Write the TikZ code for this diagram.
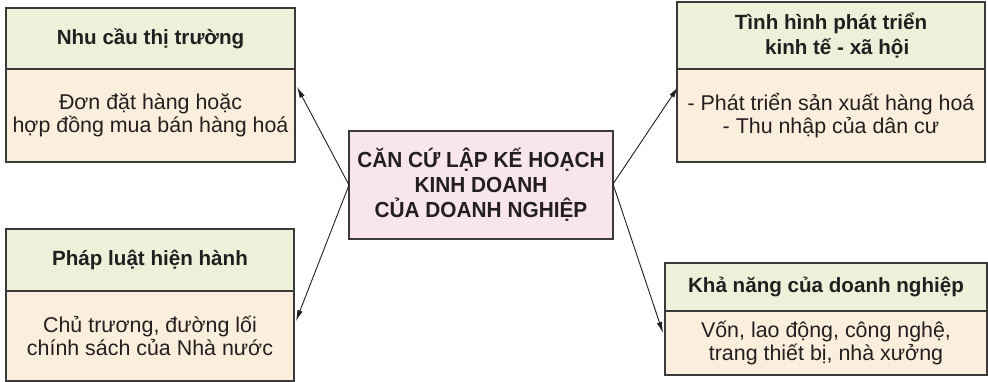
\documentclass[tikz,border=0pt]{standalone}
\usepackage{fontspec}
\setmainfont{Liberation Sans}
\newfontfamily\ctrfont{Liberation Sans}[FakeStretch=0.955]
\usetikzlibrary{arrows.meta}
\definecolor{hdrgreen}{HTML}{EDF1DA}
\definecolor{bodycream}{HTML}{FCEEDC}
\definecolor{centerpink}{HTML}{F9E6EB}
\definecolor{edgegray}{HTML}{3A3A3A}
\definecolor{txt}{HTML}{231F20}
\begin{document}
\begin{tikzpicture}[x=1pt,y=-1pt,
  boxbase/.style={draw=edgegray,line width=1.3pt,inner sep=0pt,align=center,text=txt},
  hdr/.style={boxbase,fill=hdrgreen,font=\fontsize{20.6}{25}\selectfont\bfseries},
  bdy/.style={boxbase,fill=bodycream,font=\fontsize{21.4}{23.2}\selectfont},
  ctr/.style={boxbase,fill=centerpink,font=\ctrfont\fontsize{21.8}{25}\selectfont\bfseries},
  conn/.style={draw=txt,line width=0.9pt,-{Latex[length=11pt,width=5.5pt]}}]
\useasboundingbox (0,0) rectangle (988,382);
% top-left
\node[bdy,minimum width=289pt,minimum height=93pt] (b1) at (150.5,115.5) {Đơn đặt hàng hoặc\\hợp đồng mua bán hàng hoá};
\node[hdr,minimum width=289pt,minimum height=61pt] (h1) at (150.5,38.5) {Nhu cầu thị trường};
% bottom-left
\node[bdy,minimum width=288pt,minimum height=90pt] (b2) at (150,336) {Chủ trương, đường lối\\chính sách của Nhà nước};
\node[hdr,minimum width=288pt,minimum height=62pt] (h2) at (150,260) {Pháp luật hiện hành};
% top-right
\node[bdy,minimum width=308pt,minimum height=93pt] (b3) at (831,115.5) {- Phát triển sản xuất hàng hoá\\- Thu nhập của dân cư};
\node[hdr,minimum width=308pt,minimum height=67pt] (h3) at (831,35.5) {Tình hình phát triển\\\hspace*{0.6em}kinh tế - xã hội};
% bottom-right
\node[bdy,minimum width=322pt,minimum height=64pt] (b4) at (826,343) {Vốn, lao động, công nghệ,\\trang thiết bị, nhà xưởng};
\node[hdr,minimum width=322pt,minimum height=48pt] (h4) at (826,287) {Khả năng của doanh nghiệp};
% center
\node[ctr,minimum width=264pt,minimum height=108pt] (c) at (481,185) {CĂN CỨ LẬP KẾ HOẠCH\\KINH DOANH\\CỦA DOANH NGHIỆP};
% arrow tips
\coordinate (t1) at (297,87);
\coordinate (t2) at (296,321);
\coordinate (t3) at (678,87);
\coordinate (t4) at (663,333);
\coordinate (cl) at (349,185);
\coordinate (cr) at (613,184);
\draw[conn] (cl) -- (t1);
\draw[conn] (cl) -- (t2);
\draw[conn] (cr) -- (t3);
\draw[conn] (cr) -- (t4);
\end{tikzpicture}
\end{document}
